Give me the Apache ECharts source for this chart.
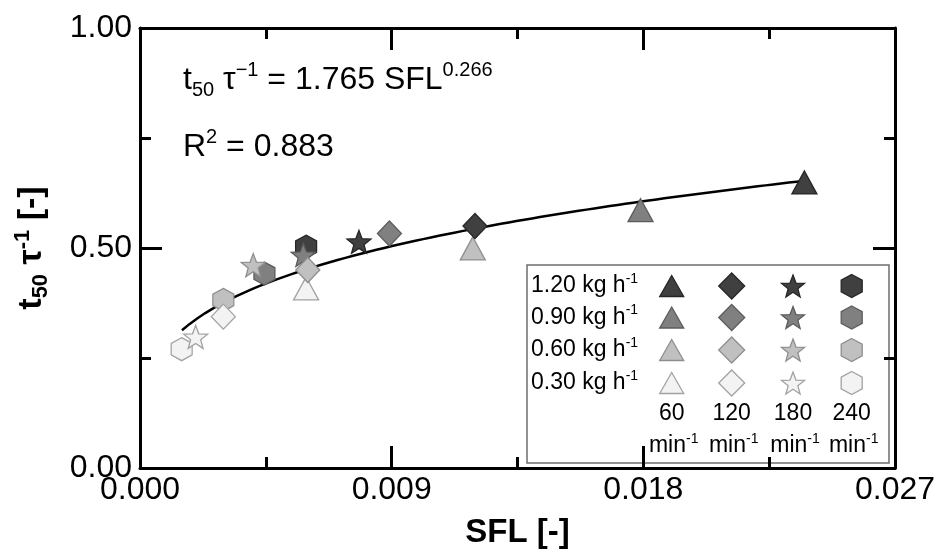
<!DOCTYPE html>
<html>
<head>
<meta charset="utf-8">
<script src="https://cdn.jsdelivr.net/npm/echarts@6/dist/echarts.min.js"></script>
<style>
  html, body { margin: 0; padding: 0; background: #ffffff; }
  #chart { width: 945px; height: 556px; }
</style>
</head>
<body>
<div id="chart"></div>
<script>
// Feed rates (kg/h), one colour each; screw speeds (1/min), one symbol each
const feedRates = ['1.20', '0.90', '0.60', '0.30'];
const screwSpeeds = ['60', '120', '180', '240'];

// SFL [-] and t50/tau [-] per screw speed, ordered by feed rate 1.20, 0.90, 0.60, 0.30
const sfl60  = [0.02376, 0.0179, 0.0119, 0.00594];
const t50_60  = [0.649, 0.586, 0.499, 0.408];
const sfl120 = [0.01198, 0.00892, 0.0060, 0.00298];
const t50_120 = [0.550, 0.533, 0.450, 0.344];
const sfl180 = [0.00783, 0.00584, 0.00405, 0.00199];
const t50_180 = [0.514, 0.484, 0.461, 0.298];
const sfl240 = [0.00594, 0.00445, 0.00298, 0.00149];
const t50_240 = [0.503, 0.442, 0.382, 0.270];

// Power-law fit t50/tau = a * SFL^b and the SFL span it covers
const fitA = 1.765;
const fitB = 0.266;
const fitR2 = '0.883';
const fitFrom = 0.0015;
const fitTo = 0.02376;

// Axis ranges and tick steps
const xMin = 0, xMax = 0.027, xStep = 0.009;
const yMin = 0, yMax = 1.0, yStep = 0.5;

// Grey shade per feed rate: [fill, outline]
const shades = [
  ['#404040', '#262626'],
  ['#808080', '#5c5c5c'],
  ['#c0c0c0', '#8e8e8e'],
  ['#f3f3f3', '#a2a2a2']
];

const FONT = 'Liberation Sans, Arial, sans-serif';

// ---- symbol outlines ----
function starPts(w, h, cx, cy) {
  const pts = [];
  const inner = 0.42;
  for (let k = 0; k < 10; k++) {
    const r = k % 2 === 0 ? 1 : inner;
    const a = (-90 + k * 36) * Math.PI / 180;
    pts.push([r * Math.cos(a), r * Math.sin(a)]);
  }
  // fit into w x h box (raw box: x -0.951..0.951, y -1..0.809)
  return pts.map(p => [cx + p[0] / 0.951 * w / 2, cy + ((p[1] + 1) / 1.809 - 0.5) * h]);
}
function hexPts(w, h, cx, cy) {
  const raw = [[0, -1], [1, -0.5], [1, 0.5], [0, 1], [-1, 0.5], [-1, -0.5]];
  return raw.map(p => [cx + p[0] * w / 2, cy + p[1] * h / 2]);
}
function triPts(w, h, cx, cy) {
  return [[cx, cy - h / 2], [cx + w / 2, cy + h / 2], [cx - w / 2, cy + h / 2]];
}
function diaPts(w, h, cx, cy) {
  return [[cx, cy - h / 2], [cx + w / 2, cy], [cx, cy + h / 2], [cx - w / 2, cy]];
}
function toPath(pts) {
  return 'path://' + pts.map((p, i) => (i ? 'L' : 'M') + p[0].toFixed(3) + ',' + p[1].toFixed(3)).join(' ') + ' Z';
}

const shapeFns = { '60': triPts, '120': diaPts, '180': starPts, '240': hexPts };
const plotSizes = { '60': [25, 23], '120': [24, 25], '180': [24, 23], '240': [21, 23] };
const legendSizes = { '60': [24, 21], '120': [26, 26], '180': [23, 22], '240': [21, 23] };

const seriesBySpeed = {
  '60': [sfl60, t50_60],
  '120': [sfl120, t50_120],
  '180': [sfl180, t50_180],
  '240': [sfl240, t50_240]
};

// drawing order: hexagons, stars, triangles, diamonds
const drawOrder = ['240', '180', '60', '120'];

const scatterSeries = drawOrder.map(sp => {
  const [xs, ys] = seriesBySpeed[sp];
  const sz = plotSizes[sp];
  const sym = toPath(shapeFns[sp](sz[0], sz[1], 0, 0));
  return {
    name: sp + ' min-1',
    type: 'scatter',
    symbol: sym,
    symbolSize: sz,
    z: 3,
    data: xs.map((x, i) => ({
      value: [x, ys[i]],
      itemStyle: { color: shades[i][0], borderColor: shades[i][1], borderWidth: 1.3, opacity: 1 }
    }))
  };
});

// fitted curve from the stated equation
const fitData = [];
const nFit = 80;
for (let i = 0; i <= nFit; i++) {
  const x = fitFrom + (fitTo - fitFrom) * i / nFit;
  fitData.push([x, fitA * Math.pow(x, fitB)]);
}

// ---- legend block (drawn as graphics over the plot) ----
const lg = { x: 527, y: 265, w: 362, h: 198 };
const rowY = [286, 317.5, 350, 383];
const colX = [671.7, 731.7, 793, 851.7];
const legendChildren = [{
  type: 'rect',
  shape: { x: lg.x, y: lg.y, width: lg.w, height: lg.h },
  style: { fill: '#ffffff', stroke: '#6e6e6e', lineWidth: 1.5 }
}];
const supRich = {
  n: { fontFamily: FONT, fontSize: 23, color: '#000', lineHeight: 28 },
  s: { fontFamily: FONT, fontSize: 14, color: '#000', lineHeight: 15, verticalAlign: 'top' }
};
feedRates.forEach((fr, r) => {
  legendChildren.push({
    type: 'text', x: 531, y: rowY[r],
    style: { text: '{n|' + fr + ' kg h}{s|-1}', rich: supRich, verticalAlign: 'middle', align: 'left' }
  });
  screwSpeeds.forEach((sp, c) => {
    const sz = legendSizes[sp];
    legendChildren.push({
      type: 'polygon',
      shape: { points: shapeFns[sp](sz[0], sz[1], colX[c], rowY[r]) },
      style: { fill: shades[r][0], stroke: shades[r][1], lineWidth: 1.3 }
    });
  });
});
screwSpeeds.forEach((sp, c) => {
  legendChildren.push({
    type: 'text', x: colX[c], y: 414,
    style: { text: sp, font: '23px ' + FONT, fill: '#000', align: 'center', verticalAlign: 'middle' }
  });
  legendChildren.push({
    type: 'text', x: colX[c] + 2, y: 446,
    style: { text: '{n|min}{s|-1}', rich: supRich, align: 'center', verticalAlign: 'middle' }
  });
});

// ---- equation text ----
const eqRich = {
  n: { fontFamily: FONT, fontSize: 32, color: '#000', lineHeight: 40 },
  sub: { fontFamily: FONT, fontSize: 20, color: '#000', lineHeight: 20, verticalAlign: 'bottom' },
  sup: { fontFamily: FONT, fontSize: 20, color: '#000', lineHeight: 20, verticalAlign: 'top' }
};

const fmtAxis = (d) => (v) => v.toFixed(d);

const axisCommon = {
  axisLine: { show: true, onZero: false, lineStyle: { color: '#000', width: 3 } },
  axisTick: { show: true, inside: true, length: 22, lineStyle: { color: '#000', width: 3 } },
  minorTick: { show: true, splitNumber: 2, length: 11, lineStyle: { color: '#000', width: 3 } },
  splitLine: { show: false },
  minorSplitLine: { show: false }
};

const chart = echarts.init(document.getElementById('chart'), null, { renderer: 'canvas' });
chart.setOption({
  animation: false,
  backgroundColor: '#ffffff',
  grid: { left: 140, right: 50, top: 28, bottom: 88, containLabel: false },
  xAxis: [
    Object.assign({}, axisCommon, {
      type: 'value', position: 'bottom', min: xMin, max: xMax, interval: xStep,
      axisLabel: { formatter: fmtAxis(3), color: '#000', fontSize: 32, fontFamily: FONT, margin: 6 },
      name: 'SFL [-]', nameLocation: 'middle', nameGap: 48,
      nameTextStyle: { fontFamily: FONT, fontWeight: 'bold', fontSize: 33, color: '#000' }
    }),
    Object.assign({}, axisCommon, {
      type: 'value', position: 'top', min: xMin, max: xMax, interval: xStep,
      axisLabel: { show: false }
    })
  ],
  yAxis: [
    Object.assign({}, axisCommon, {
      type: 'value', position: 'left', min: yMin, max: yMax, interval: yStep,
      axisLabel: { formatter: fmtAxis(2), color: '#000', fontSize: 32, fontFamily: FONT, margin: 8 },
      name: '{b|t}{bs|50}{b| τ}{bp|-1}{b| [-]}', nameLocation: 'middle', nameGap: 88, nameRotate: 90,
      nameTextStyle: {
        rich: {
          b: { fontFamily: FONT, fontWeight: 'bold', fontSize: 34, color: '#000', lineHeight: 40 },
          bs: { fontFamily: FONT, fontWeight: 'bold', fontSize: 22, color: '#000', lineHeight: 22, verticalAlign: 'bottom' },
          bp: { fontFamily: FONT, fontWeight: 'bold', fontSize: 22, color: '#000', lineHeight: 22, verticalAlign: 'top' }
        }
      }
    }),
    Object.assign({}, axisCommon, {
      type: 'value', position: 'right', min: yMin, max: yMax, interval: yStep,
      axisLabel: { show: false }
    })
  ],
  series: [
    {
      name: 'fit', type: 'line', data: fitData, showSymbol: false, symbol: 'none',
      lineStyle: { color: '#000', width: 2.5 }, z: 2, silent: true
    }
  ].concat(scatterSeries),
  graphic: [
    {
      type: 'text', x: 183, y: 80, z: 10,
      style: { text: '{n|t}{sub|50}{n| τ}{sup|−1}{n| = ' + fitA + ' SFL}{sup|' + fitB + '}', rich: eqRich, verticalAlign: 'middle' }
    },
    {
      type: 'text', x: 183, y: 147, z: 10,
      style: { text: '{n|R}{sup|2}{n| = ' + fitR2 + '}', rich: eqRich, verticalAlign: 'middle' }
    },
    { type: 'group', z: 20, children: legendChildren }
  ]
});
</script>
</body>
</html>
